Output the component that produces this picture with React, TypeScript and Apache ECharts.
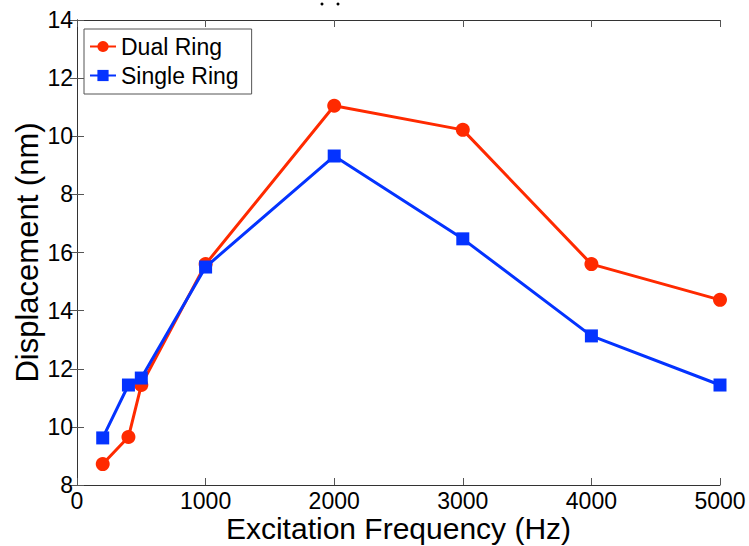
import React, { useEffect, useRef } from "react";
import * as echarts from "echarts";

// Frequencies (Hz)
const frequencies = [200, 400, 500, 1000, 2000, 3000, 4000, 5000];
// Values on the continuous axis scale (8..24); the axis is a stacked/broken scale whose labels are below
const dualRing = [8.72, 9.65, 11.44, 15.6, 21.05, 20.22, 15.6, 14.37];
const singleRing = [9.62, 11.44, 11.68, 15.5, 19.32, 16.47, 13.13, 11.44];
// Tick labels as printed on the y axis, bottom to top
const yTickLabels = ["8", "10", "12", "14", "16", "8", "10", "12", "14"];
const xTickLabels = ["0", "1000", "2000", "3000", "4000", "5000"];

const RED = "#ff2a00";
const BLUE = "#0433ff";
const FONT = "Liberation Sans, Arial, sans-serif";

export default function App() {
  const ref = useRef<HTMLDivElement>(null);
  useEffect(() => {
    if (!ref.current) return;
    const chart = echarts.init(ref.current, undefined, { renderer: "svg" });
    const pairs = (ys: number[]) => frequencies.map((f, i) => [f, ys[i]]);
    chart.setOption({
      animation: false,
      backgroundColor: "#fff",
      graphic: [
        { type: "circle", shape: { cx: 322, cy: 4, r: 1.5 }, style: { fill: "#000" } },
        { type: "circle", shape: { cx: 338, cy: 4, r: 1.5 }, style: { fill: "#000" } },
      ],
      grid: {
        left: 77,
        right: 29,
        top: 20,
        bottom: 61,
        containLabel: false,
        outerBoundsMode: "none",
      },
      legend: {
        left: 84,
        top: 29,
        orient: "vertical",
        backgroundColor: "#fff",
        borderColor: "#555",
        borderWidth: 1,
        borderRadius: 0,
        padding: [6, 13, 7, 5],
        itemGap: 6,
        itemWidth: 26,
        itemHeight: 14,
        textStyle: { fontFamily: FONT, fontSize: 23, color: "#000" },
        data: ["Dual Ring", "Single Ring"],
      },
      xAxis: [
        {
          type: "value",
          min: 0,
          max: 5000,
          interval: 1000,
          name: "Excitation Frequency (Hz)",
          nameLocation: "middle",
          nameGap: 28,
          nameMoveOverlap: false,
          nameTextStyle: { fontFamily: FONT, fontSize: 30, lineHeight: 30, color: "#000" },
          axisLine: { show: true, lineStyle: { color: "#333", width: 1 } },
          axisTick: { show: true, inside: true, length: 7, lineStyle: { color: "#555" } },
          axisLabel: {
            fontFamily: FONT,
            fontSize: 23,
            color: "#000",
            margin: 4,
            formatter: (v: number) => xTickLabels[Math.round(v / 1000)] ?? "",
          },
          splitLine: { show: false },
        },
        {
          type: "value",
          position: "top",
          min: 0,
          max: 5000,
          interval: 1000,
          axisLine: { show: true, lineStyle: { color: "#333", width: 1 } },
          axisTick: { show: true, inside: true, length: 7, lineStyle: { color: "#555" } },
          axisLabel: { show: false },
          splitLine: { show: false },
        },
      ],
      yAxis: [
        {
          type: "value",
          min: 8,
          max: 24,
          interval: 2,
          name: "Displacement (nm)",
          nameLocation: "middle",
          nameGap: 34,
          nameMoveOverlap: false,
          nameTextStyle: { fontFamily: FONT, fontSize: 31, color: "#000" },
          axisLine: { show: true, lineStyle: { color: "#333", width: 1 } },
          axisTick: { show: true, inside: true, length: 7, lineStyle: { color: "#555" } },
          axisLabel: {
            fontFamily: FONT,
            fontSize: 23,
            color: "#000",
            margin: 4,
            formatter: (v: number) => yTickLabels[Math.round((v - 8) / 2)] ?? "",
          },
          splitLine: { show: false },
        },
        {
          type: "value",
          position: "right",
          min: 8,
          max: 24,
          interval: 2,
          axisLine: { show: true, lineStyle: { color: "#333", width: 1 } },
          axisTick: { show: true, inside: true, length: 7, lineStyle: { color: "#555" } },
          axisLabel: { show: false },
          splitLine: { show: false },
        },
      ],
      series: [
        {
          name: "Dual Ring",
          type: "line",
          data: pairs(dualRing),
          symbol: "circle",
          symbolSize: 14,
          lineStyle: { color: RED, width: 3 },
          itemStyle: { color: RED },
          z: 2,
        },
        {
          name: "Single Ring",
          type: "line",
          data: pairs(singleRing),
          symbol: "rect",
          symbolSize: 13,
          lineStyle: { color: BLUE, width: 3 },
          itemStyle: { color: BLUE },
          z: 3,
        },
      ],
    });
    return () => chart.dispose();
  }, []);
  return (
    <div
      ref={ref}
      style={{ position: "fixed", left: 0, top: 0, width: 749, height: 546 }}
    />
  );
}
